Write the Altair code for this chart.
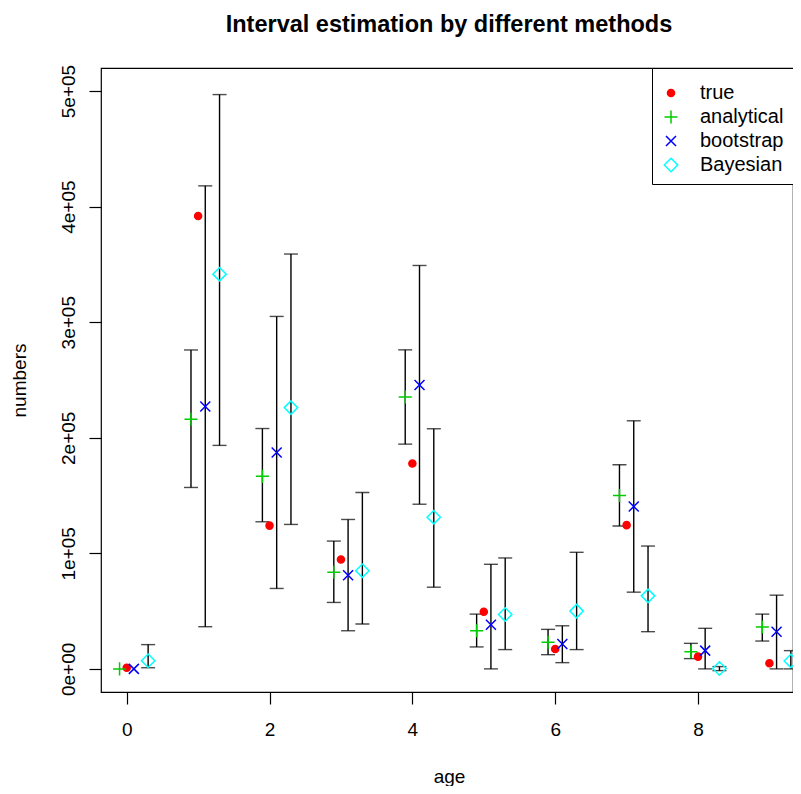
import altair as alt
import pandas as pd

ages = [0, 1, 2, 3, 4, 5, 6, 7, 8, 9]
methods = ["true", "analytical", "bootstrap", "Bayesian"]
offsets = [0.0, -0.1, 0.1, 0.3]

true_vals = [1000, 392000, 124000, 94600, 177800, 49400, 17200, 124400, 10600, 4900]

ana_est = [0, 216000, 166600, 83600, 235300, 33000, 23000, 150000, 14900, 36200]
ana_lo = [0, 157000, 127300, 57500, 194500, 19000, 12300, 123600, 8900, 24100]
ana_hi = [0, 276000, 208000, 110600, 276100, 47400, 34200, 176700, 22100, 47400]

boot_est = [0, 227000, 187300, 81000, 245700, 38200, 21600, 140500, 15800, 32200]
boot_lo = [0, 36500, 69600, 33000, 142500, 0, 5400, 66400, 0, 0]
boot_hi = [0, 418000, 305000, 129300, 349100, 90500, 37300, 214700, 35100, 63800]

bayes_est = [7000, 341600, 226100, 85000, 131300, 47100, 50000, 63200, 300, 6900]
bayes_lo = [1000, 193400, 125000, 38800, 70700, 16700, 16700, 32200, -1500, 0]
bayes_hi = [21000, 497000, 359000, 152600, 207800, 96000, 100900, 106300, 2000, 15800]

colors = ["#FF0000", "#00CD00", "#0000FF", "#00FFFF"]
fills = ["#FF0000", "transparent", "transparent", "transparent"]
shapes = ["circle", "M-1,0L1,0M0,-1L0,1", "M-1,-1L1,1M-1,1L1,-1", "M0,-1L1,0L0,1L-1,0Z"]
sizes = [50, 170, 100, 180]

y_ticks = [0, 100000, 200000, 300000, 400000, 500000]
x_ticks = [0, 2, 4, 6, 8]

# ---- tables ----
est_series = [true_vals, ana_est, boot_est, bayes_est]
pts_rows = []
for m, off, est in zip(methods, offsets, est_series):
    for a, v in zip(ages, est):
        pts_rows.append({"pos": a + off, "method": m, "est": v})
pts = pd.DataFrame(pts_rows)

int_rows = []
for m, off, lo, hi in zip(methods[1:], offsets[1:], [ana_lo, boot_lo, bayes_lo], [ana_hi, boot_hi, bayes_hi]):
    for a, l, h in zip(ages, lo, hi):
        if h != l:
            int_rows.append({"pos": a + off, "method": m, "lo": l, "hi": h})
ints = pd.DataFrame(int_rows)

FONT = "Liberation Sans"

x_enc = alt.X(
    "pos:Q",
    scale=alt.Scale(domain=[-0.36, 9.33], nice=False, zero=False),
    axis=alt.Axis(
        values=x_ticks, title="age", format="d", domain=False, grid=False,
        tickSize=12, tickColor="black", tickWidth=1.2,
        labelFontSize=19, labelFont=FONT, labelColor="black", labelPadding=16,
        labelFlush=False, labelOverlap=False,
        titleFontSize=19, titleFont=FONT, titleFontWeight="normal", titleColor="black",
        titleX=348, titleY=84, titleAlign="center", titleBaseline="middle",
    ),
)

y_axis = alt.Axis(
    values=y_ticks, title="numbers", domain=False, grid=False,
    labelExpr="datum.value == 0 ? '0e+00' : format(datum.value / 100000, 'd') + 'e+05'",
    tickSize=12, tickColor="black", tickWidth=1.2,
    labelFontSize=19, labelFont=FONT, labelColor="black", labelPadding=15,
    labelAngle=270, labelAlign="center", labelBaseline="alphabetic",
    labelFlush=False, labelOverlap=False,
    titleFontSize=19, titleFont=FONT, titleFontWeight="normal", titleColor="black",
    titleX=-82, titleY=312, titleAngle=270, titleAlign="center", titleBaseline="middle",
)
y_scale = alt.Scale(domain=[-20000, 520000], nice=False, zero=False)

bars = alt.Chart(ints).mark_rule(color="black", strokeWidth=1.4, clip=True).encode(
    x=x_enc,
    y=alt.Y("lo:Q", scale=y_scale, axis=y_axis),
    y2="hi:Q",
)
cap_lo = alt.Chart(ints).mark_tick(orient="horizontal", size=14, thickness=1.4, color="black", clip=True).encode(
    x=x_enc, y=alt.Y("lo:Q", scale=y_scale, axis=y_axis)
)
cap_hi = alt.Chart(ints).mark_tick(orient="horizontal", size=14, thickness=1.4, color="black", clip=True).encode(
    x=x_enc, y=alt.Y("hi:Q", scale=y_scale, axis=y_axis)
)

leg = alt.Legend(
    title=" ", titleFontSize=1, titlePadding=5,
    orient="top-right", offset=0, strokeColor="black", fillColor="white",
    padding=9, rowPadding=4, labelFontSize=20, labelFont=FONT, labelColor="black",
    labelOffset=19, symbolStrokeWidth=1.5,
)

points = alt.Chart(pts).mark_point(filled=False, strokeWidth=1.5, opacity=1, clip=True).encode(
    x=x_enc,
    y=alt.Y("est:Q", scale=y_scale, axis=y_axis),
    color=alt.Color("method:N", scale=alt.Scale(domain=methods, range=colors), legend=leg),
    fill=alt.Fill("method:N", scale=alt.Scale(domain=methods, range=fills), legend=leg),
    shape=alt.Shape("method:N", scale=alt.Scale(domain=methods, range=shapes), legend=leg),
    size=alt.Size("method:N", scale=alt.Scale(type="ordinal", domain=methods, range=sizes), legend=leg),
)

chart = alt.layer(bars, cap_lo, cap_hi, points).properties(
    width=692, height=624, background="white",
    title=alt.Title(
        "Interval estimation by different methods", fontSize=23.5, fontWeight="bold",
        font=FONT, color="black", anchor="middle", frame="group", offset=9, baseline="alphabetic",
        dx=2,
    ),
    autosize=alt.AutoSizeParams(type="none"),
    padding={"left": 93, "top": 60, "right": 0, "bottom": 94},
).configure_view(stroke="black", strokeWidth=1.2)

chart.save("out.html", embed_options={"renderer": "svg", "actions": False})
